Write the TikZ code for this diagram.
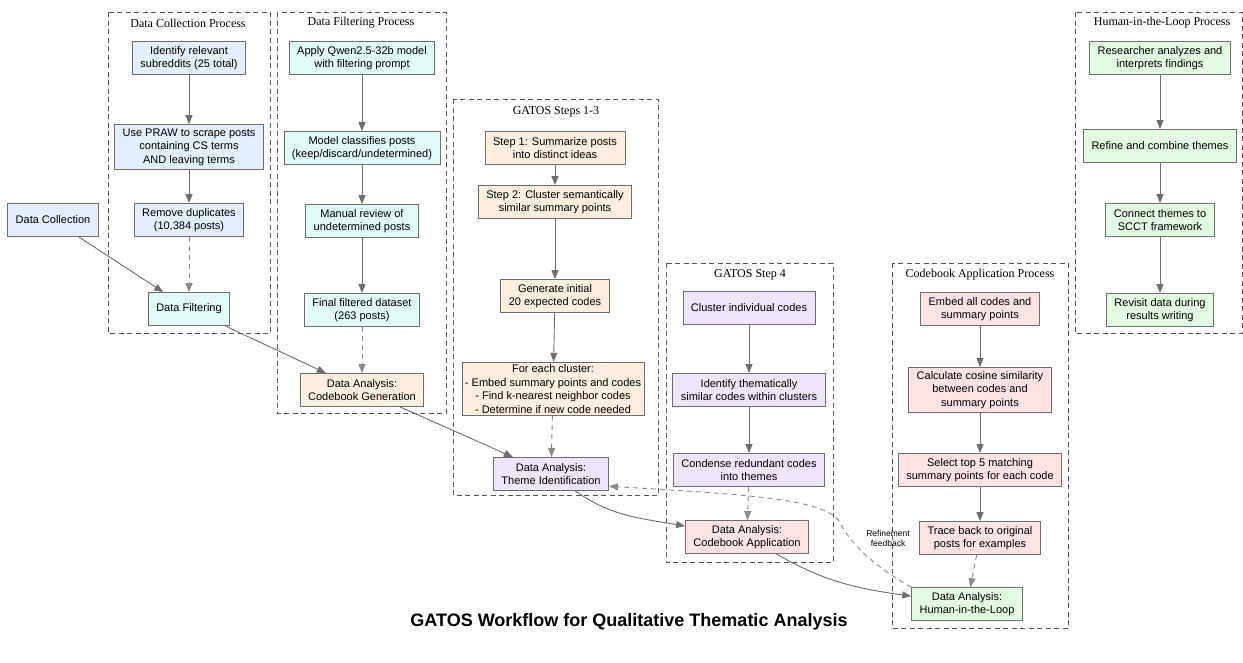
\documentclass[tikz,border=0pt]{standalone}
\usepackage{fontspec}
\setmainfont{Liberation Serif}
\setsansfont{Liberation Sans}
\usetikzlibrary{arrows.meta}

\definecolor{collectblue}{HTML}{E3EFFC}
\definecolor{filtercyan}{HTML}{E0FBF8}
\definecolor{codepeach}{HTML}{FDEEDF}
\definecolor{themelilac}{HTML}{EEE5FB}
\definecolor{applypink}{HTML}{FDE3E3}
\definecolor{loopgreen}{HTML}{E3FBE3}
\definecolor{edgegray}{HTML}{6E6E6E}
\definecolor{framegray}{HTML}{555555}

\begin{document}
\begin{tikzpicture}[x=1pt, y=-1pt, >={Triangle[length=9pt, width=7pt]},
        box/.style={draw=edgegray, line width=0.8pt, align=center, inner xsep=8pt, inner ysep=4pt,
            minimum height=33pt, font=\sffamily\fontsize{11}{13.5}\selectfont},
        cluster/.style={draw=framegray, line width=0.8pt, dash pattern=on 5pt off 3.5pt},
        clustertitle/.style={font=\fontsize{12}{14}\selectfont},
        flow/.style={->, draw=edgegray, line width=0.9pt},
        handoff/.style={->, draw=edgegray!80, line width=0.9pt, dash pattern=on 5pt off 4pt}]
    \useasboundingbox (0,0) rectangle (1243,662);

    % Process clusters
    \draw[cluster] (108,12) rectangle (270,333);
    \node[clustertitle] (tcollect) at (188,23) {Data Collection Process};
    \draw[cluster] (277,12) rectangle (446,413);
    \node[clustertitle] (tfilter) at (361,23) {Data Filtering Process};
    \draw[cluster] (453,99) rectangle (658,495);
    \node[clustertitle] (tsteps) at (556,112) {GATOS Steps 1-3};
    \draw[cluster] (666,263) rectangle (833,562);
    \node[clustertitle] (tstepfour) at (750,275) {GATOS Step 4};
    \draw[cluster] (892,263) rectangle (1068,628);
    \node[clustertitle] (tapply) at (980,275) {Codebook Application Process};
    \draw[cluster] (1075,12) rectangle (1242,333);
    \node[clustertitle] (tloop) at (1162,23) {Human-in-the-Loop Process};

    % Data collection
    \node[box, fill=collectblue] (dc) at (53,220) {Data Collection};
    \node[box, fill=collectblue] (subs) at (189,58) {Identify relevant\\subreddits (25 total)};
    \node[box, fill=collectblue] (praw) at (189,147) {Use PRAW to scrape posts\\containing CS terms\\AND leaving terms};
    \node[box, fill=collectblue] (dups) at (189,220) {Remove duplicates\\(10,384 posts)};
    \node[box, fill=filtercyan] (df) at (189,309) {Data Filtering};

    % Data filtering
    \node[box, fill=filtercyan] (qwen) at (362,58) {Apply Qwen2.5-32b model\\with filtering prompt};
    \node[box, fill=filtercyan] (classify) at (362,148) {Model classifies posts\\(keep/discard/undetermined)};
    \node[box, fill=filtercyan] (review) at (362,221) {Manual review of\\undetermined posts};
    \node[box, fill=filtercyan] (final) at (362,310) {Final filtered dataset\\(263 posts)};
    \node[box, fill=codepeach] (cg) at (362,390) {Data Analysis:\\Codebook Generation};

    % GATOS steps 1-3
    \node[box, fill=codepeach] (summ) at (555,148) {Step 1: Summarize posts\\into distinct ideas};
    \node[box, fill=codepeach] (clus) at (555,202) {Step 2: Cluster semantically\\similar summary points};
    \node[box, fill=codepeach] (init) at (555,296) {Generate initial\\20 expected codes};
    \node[box, fill=codepeach, inner xsep=3pt, inner ysep=2.5pt] (each) at (553,389) {For each cluster:\\- Embed summary points and codes\\- Find k-nearest neighbor codes\\- Determine if new code needed};
    \node[box, fill=themelilac] (ti) at (551,474) {Data Analysis:\\Theme Identification};

    % GATOS step 4
    \node[box, fill=themelilac] (indiv) at (749,308) {Cluster individual codes};
    \node[box, fill=themelilac] (simil) at (749,390) {Identify thematically\\similar codes within clusters};
    \node[box, fill=themelilac] (cond) at (749,470) {Condense redundant codes\\into themes};
    \node[box, fill=applypink] (ca) at (747,537) {Data Analysis:\\Codebook Application};

    % Codebook application
    \node[box, fill=applypink] (embed) at (980,309) {Embed all codes and\\summary points};
    \node[box, fill=applypink] (cosine) at (980,390) {Calculate cosine similarity\\between codes and\\summary points};
    \node[box, fill=applypink] (top) at (980,470) {Select top 5 matching\\summary points for each code};
    \node[box, fill=applypink] (trace) at (980,538) {Trace back to original\\posts for examples};
    \node[box, fill=loopgreen] (hl) at (967,604) {Data Analysis:\\Human-in-the-Loop};

    % Human-in-the-loop
    \node[box, fill=loopgreen] (interp) at (1160,58) {Researcher analyzes and\\interprets findings};
    \node[box, fill=loopgreen] (refine) at (1160,146) {Refine and combine themes};
    \node[box, fill=loopgreen] (scct) at (1160,220) {Connect themes to\\SCCT framework};
    \node[box, fill=loopgreen] (revisit) at (1160,310) {Revisit data during\\results writing};

    % Steps inside the clusters
    \draw[flow] (subs) -- (praw);
    \draw[flow] (praw) -- (dups);
    \draw[handoff] (dups) -- (df);
    \draw[flow] (qwen) -- (classify);
    \draw[flow] (classify) -- (review);
    \draw[flow] (review) -- (final);
    \draw[handoff] (final) -- (cg);
    \draw[flow] (summ) -- (clus);
    \draw[flow] (clus) -- (init);
    \draw[flow] (init) -- (each);
    \draw[handoff] (each) -- (ti);
    \draw[flow] (indiv) -- (simil);
    \draw[flow] (simil) -- (cond);
    \draw[handoff] (cond) -- (ca);
    \draw[flow] (embed) -- (cosine);
    \draw[flow] (cosine) -- (top);
    \draw[flow] (top) -- (trace);
    \draw[handoff] (trace) -- (hl);
    \draw[flow] (interp) -- (refine);
    \draw[flow] (refine) -- (scct);
    \draw[flow] (scct) -- (revisit);

    % Main workflow
    \draw[flow] (dc) -- (df);
    \draw[flow] (df) -- (cg);
    \draw[flow] (cg) -- (ti);
    \draw[flow] (ti) to[out=-35, in=170] (ca);
    \draw[flow] (ca) to[out=-30, in=172] (hl);
    \draw[handoff] (hl.north west) .. controls (880,570) and (850,545) .. (840,522)
        .. controls (825,500) and (760,495) .. (ti.-12);
    \node[font=\sffamily\fontsize{8.5}{10}\selectfont, align=center] (fb) at (888,538) {Refinement\\feedback};

    \node[font=\sffamily\bfseries\fontsize{18}{20}\selectfont] (title) at (629,622) {GATOS Workflow for Qualitative Thematic Analysis};
\end{tikzpicture}
\end{document}
